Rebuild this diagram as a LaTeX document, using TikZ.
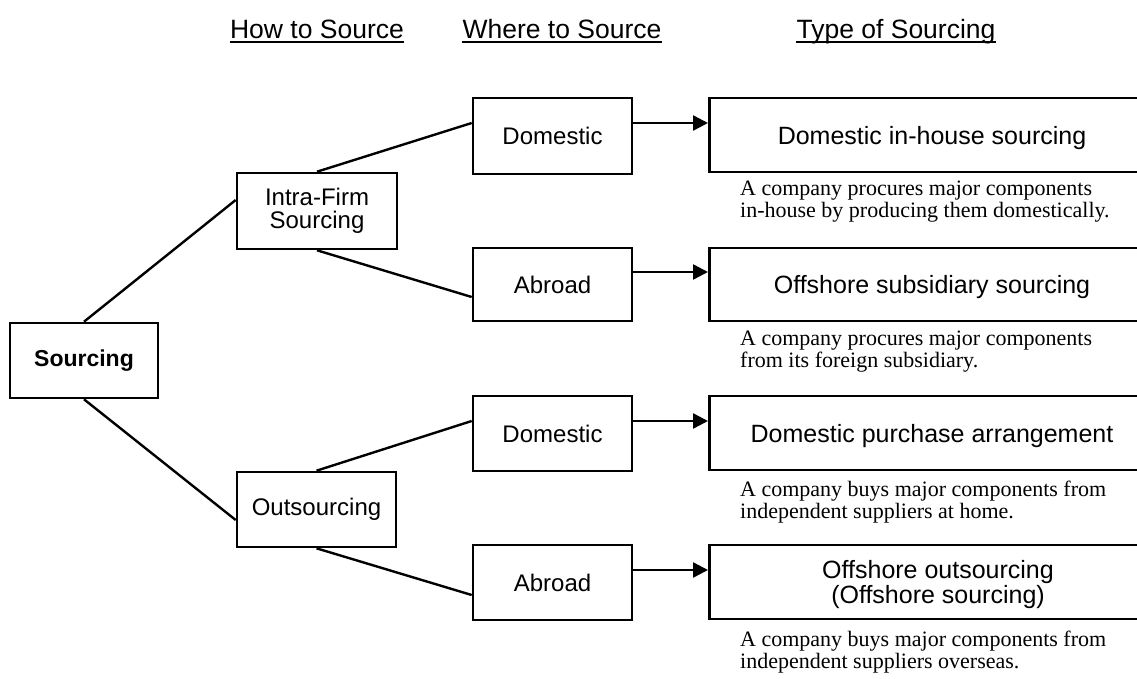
\documentclass[tikz,border=0pt]{standalone}
\usepackage{fontspec}
\setmainfont{Liberation Serif}
\newfontfamily\labelfont{Liberation Sans}
\usetikzlibrary{arrows.meta}
\begin{document}
\begin{tikzpicture}[x=1pt,y=-1pt,
  box/.style={draw, line width=2.6pt, inner sep=0pt, align=center,
    font=\labelfont\fontsize{24}{23}\selectfont},
  typebox/.style={draw, line width=2.6pt, anchor=west, minimum width=470pt},
  ttl/.style={inner sep=0pt, align=center, font=\labelfont\fontsize{25}{23}\selectfont},
  link/.style={line width=2.4pt},
  arr/.style={line width=2.4pt, -{Triangle[length=15pt,width=15pt]}},
  hdr/.style={inner sep=0pt, anchor=base, font=\labelfont\fontsize{26.5}{27}\selectfont},
  desc/.style={inner sep=0pt, anchor=north west, align=left, font=\fontsize{22}{22}\selectfont}
]
\useasboundingbox (0,0) rectangle (1137,678);
\clip (0,0) rectangle (1137,678);

% column headings
\node[hdr] (h1) at (317,38) {How to Source};
\node[hdr] (h2) at (562,38) {Where to Source};
\node[hdr] (h3) at (896,38) {Type of Sourcing};
\foreach \h in {h1,h2,h3}
  \draw[line width=2pt] ([yshift=-3.5pt]\h.base west) -- ([yshift=-3.5pt]\h.base east);

% tree of sourcing decisions
\node[box, minimum width=148pt, minimum height=75pt,
  font=\labelfont\bfseries\fontsize{23}{23}\selectfont] (src) at (84,360.5) {Sourcing};
\node[box, minimum width=160pt, minimum height=76pt] (intra) at (317,211) {Intra-Firm\\Sourcing};
\node[box, minimum width=159pt, minimum height=75pt] (out) at (316.5,509.5) {Outsourcing};

\node[box, minimum width=159pt, minimum height=76pt] (d1) at (552.5,136) {Domestic};
\node[box, minimum width=159pt, minimum height=73pt] (a1) at (552.5,284.5) {Abroad};
\node[box, minimum width=159pt, minimum height=75pt] (d2) at (552.5,433.5) {Domestic};
\node[box, minimum width=159pt, minimum height=75pt] (a2) at (552.5,582.5) {Abroad};

% types of sourcing (boxes run off the right edge)
\node[typebox, minimum height=74pt] (r1) at (708,135) {};
\node[typebox, minimum height=73pt] (r2) at (708,284.5) {};
\node[typebox, minimum height=74pt] (r3) at (708,433) {};
\node[typebox, minimum height=74pt] (r4) at (708,582) {};

\node[ttl] (t1) at (932,138) {Domestic in-house sourcing};
\node[ttl] (t2) at (932,287.5) {Offshore subsidiary sourcing};
\node[ttl] (t3) at (932,436) {Domestic purchase arrangement};
\node[ttl] (t4) at (938,584.5) {Offshore outsourcing\\(Offshore sourcing)};

\node[desc] (s1) at (740,181) {A company procures major components\\in-house by producing them domestically.};
\node[desc] (s2) at (740,331) {A company procures major components\\from its foreign subsidiary.};
\node[desc] (s3) at (740,481) {A company buys major components from\\independent suppliers at home.};
\node[desc] (s4) at (740,631) {A company buys major components from\\independent suppliers overseas.};

% connectors
\draw[link] (src.north) -- ([yshift=11pt]intra.west);
\draw[link] (src.south) -- ([yshift=-10.5pt]out.west);
\draw[link] (intra.north) -- ([yshift=13pt]d1.west);
\draw[link] (intra.south) -- ([yshift=-12.5pt]a1.west);
\draw[link] (out.north) -- ([yshift=12.5pt]d2.west);
\draw[link] (out.south) -- ([yshift=-12.5pt]a2.west);

\draw[arr] ([yshift=13pt]d1.east) -- ([yshift=13pt]d1.east -| r1.west);
\draw[arr] ([yshift=12.5pt]a1.east) -- ([yshift=12.5pt]a1.east -| r2.west);
\draw[arr] ([yshift=12.5pt]d2.east) -- ([yshift=12.5pt]d2.east -| r3.west);
\draw[arr] ([yshift=12.5pt]a2.east) -- ([yshift=12.5pt]a2.east -| r4.west);
\end{tikzpicture}
\end{document}
